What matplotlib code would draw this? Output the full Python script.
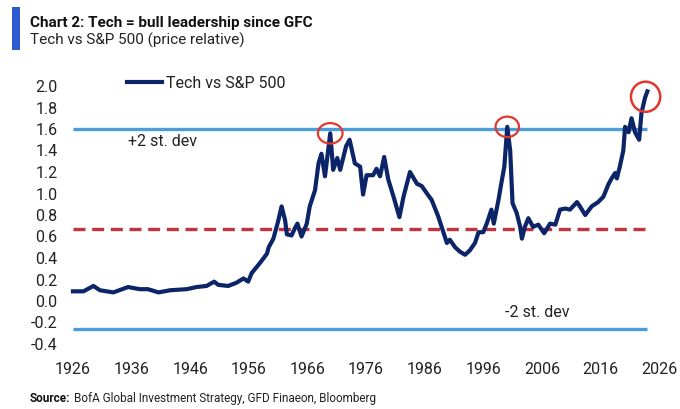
import matplotlib
matplotlib.use("Agg")
import matplotlib.pyplot as plt
from matplotlib.patches import Ellipse, Rectangle
import numpy as np

# ---------------- data ----------------
years = [1926.0, 1927.8, 1929.5, 1930.6, 1932.9, 1935.4, 1937.4, 1938.8, 1940.6, 1942.6,
         1945.4, 1947.1, 1948.8, 1950.1, 1950.8, 1952.5, 1953.9, 1955.1, 1955.9, 1956.5,
         1958.0, 1959.1, 1959.4, 1960.2, 1961.0, 1961.6, 1962.2, 1962.5, 1963.3, 1963.9,
         1964.3, 1965.0, 1965.9, 1966.4, 1967.3, 1967.9, 1968.4, 1969.0, 1969.9, 1970.4,
         1971.1, 1971.6, 1972.6, 1973.2, 1974.1, 1975.0, 1975.5, 1976.1, 1977.2, 1977.8,
         1978.4, 1979.1, 1979.8, 1980.7, 1981.7, 1982.4, 1983.5, 1984.7, 1985.5, 1986.4,
         1987.2, 1988.3, 1988.9, 1989.8, 1990.3, 1991.2, 1992.0, 1992.9, 1993.7, 1994.6,
         1995.2, 1996.0, 1996.6, 1997.4, 1997.8, 1998.6, 1999.2, 1999.6, 2000.1, 2000.6,
         2001.0, 2001.7, 2002.3, 2002.6, 2003.1, 2003.7, 2004.5, 2005.4, 2006.4, 2007.4,
         2008.3, 2009.1, 2010.0, 2010.8, 2012.0, 2012.5, 2013.4, 2014.5, 2015.6, 2016.5,
         2017.4, 2017.9, 2018.5, 2018.8, 2019.3, 2019.9, 2020.2, 2020.8, 2021.3, 2021.9,
         2022.6, 2023.0, 2023.6, 2024.0]
tech_vs_spx = [0.09, 0.09, 0.14, 0.10, 0.08, 0.13, 0.11, 0.11, 0.08, 0.10,
               0.11, 0.13, 0.14, 0.18, 0.15, 0.14, 0.17, 0.21, 0.18, 0.26,
               0.36, 0.44, 0.50, 0.58, 0.74, 0.88, 0.75, 0.62, 0.61, 0.68,
               0.72, 0.60, 0.72, 0.88, 1.03, 1.28, 1.37, 1.16, 1.56, 1.22,
               1.33, 1.22, 1.44, 1.50, 1.28, 1.25, 0.99, 1.17, 1.17, 1.23,
               1.16, 1.34, 1.13, 0.97, 0.78, 0.97, 1.20, 1.09, 1.07, 1.00,
               0.94, 0.79, 0.69, 0.54, 0.57, 0.50, 0.46, 0.43, 0.47, 0.54,
               0.64, 0.64, 0.72, 0.85, 0.72, 0.94, 1.13, 1.25, 1.62, 1.40,
               0.91, 0.82, 0.69, 0.58, 0.69, 0.77, 0.69, 0.71, 0.63, 0.72,
               0.71, 0.85, 0.86, 0.85, 0.92, 0.88, 0.80, 0.88, 0.92, 0.97,
               1.09, 1.14, 1.19, 1.14, 1.25, 1.40, 1.62, 1.57, 1.70, 1.57,
               1.50, 1.75, 1.89, 1.95]

mean_level = 0.67
plus_2sd = 1.60
minus_2sd = -0.26

y_ticks = [-0.4, -0.2, 0.0, 0.2, 0.4, 0.6, 0.8, 1.0, 1.2, 1.4, 1.6, 1.8, 2.0]
x_ticks = [1926, 1936, 1946, 1956, 1966, 1976, 1986, 1996, 2006, 2016, 2026]

title = "Chart 2: Tech = bull leadership since GFC"
subtitle = "Tech vs S&P 500 (price relative)"
series_name = "Tech vs S&P 500"
source_bold = "Source:"
source_rest = "BofA Global Investment Strategy, GFD Finaeon, Bloomberg"

# ---------------- style ----------------
NAVY = "#0C2468"
LIGHT_BLUE = "#4C9EDB"
RED_DASH = "#C1343F"
CIRCLE_RED = "#E2372C"
TEXT = "#222222"
FONT = ["Roboto", "Liberation Sans", "DejaVu Sans"]

plt.rcParams["font.family"] = FONT
plt.rcParams["axes.unicode_minus"] = False

W, H = 680, 409
fig = plt.figure(figsize=(W / 100, H / 100), dpi=100)

x0, x1 = 1925.5, 2026.5
left_px, right_px = 70.0, 662.0
bot_px, top_px = 344.0, 86.0
ax = fig.add_axes([left_px / W, 1 - bot_px / H, (right_px - left_px) / W, (bot_px - top_px) / H])
ax.set_xlim(x0, x1)
ax.set_ylim(-0.4, 2.0)
for s in ax.spines.values():
    s.set_visible(False)
ax.set_yticks(y_ticks)
ax.set_yticklabels([f"{v:.1f}" for v in y_ticks])
ax.set_xticks(x_ticks)
ax.set_xticklabels([str(v) for v in x_ticks])
ax.tick_params(axis="both", length=0, labelsize=11.5, colors=TEXT)
ax.tick_params(axis="y", pad=9)
ax.tick_params(axis="x", pad=13)

# reference lines
ax.hlines([plus_2sd, minus_2sd], years[0], years[-1], colors=LIGHT_BLUE, lw=2.4, zorder=2)
ax.hlines(mean_level, years[0], years[-1], colors=RED_DASH, lw=2.4,
          linestyles=(0, (3.6, 2.0)), zorder=2)

# main series
ax.plot(years, tech_vs_spx, color=NAVY, lw=3.0, solid_joinstyle="round",
        zorder=3, label=series_name, clip_on=False)

# circles around the peaks
yr = np.array(years)
vals = np.array(tech_vs_spx)
def peak_in(lo, hi):
    m = (yr >= lo) & (yr <= hi)
    i = np.argmax(np.where(m, vals, -np.inf))
    return yr[i], vals[i]
for (cx, cy), w, h in [(peak_in(1965, 1975), 4.2, 0.19),
                       (peak_in(1995, 2005), 4.0, 0.19)]:
    ax.add_patch(Ellipse((cx, cy), w, h, fill=False, ec=CIRCLE_RED, lw=1.6, zorder=4, clip_on=False))
end_c = (yr[-2:].mean() - 0.1, vals[-2:].mean() - 0.02)
ax.add_patch(Ellipse(end_c, 5.0, 0.28, fill=False, ec=CIRCLE_RED, lw=1.8, zorder=4, clip_on=False))

# labels on the bands
ax.text(1935.4, 1.48, "+2 st. dev", fontsize=11.5, color=TEXT, va="center", ha="left")
ax.text(1999.7, -0.11, "-2 st. dev", fontsize=11.5, color=TEXT, va="center", ha="left")

# legend
leg = ax.legend(loc="center left", bbox_to_anchor=(127 / W, 1 - 83 / H),
                bbox_transform=fig.transFigure, frameon=False, fontsize=11.5,
                handlelength=2.2, handletextpad=0.25, borderaxespad=0, borderpad=0)
for t in leg.get_texts():
    t.set_color(TEXT)

# title block
fig.patches.append(Rectangle((12 / W, 1 - 50 / H), 8 / W, 43 / H, transform=fig.transFigure,
                             facecolor="#2D5CD2", edgecolor="none"))
fig.text(30 / W, 1 - 27 / H, title, fontsize=11, fontweight="bold", color="#111111",
         va="baseline", ha="left")
fig.text(30 / W, 1 - 45 / H, subtitle, fontsize=11, color="#222222", va="baseline", ha="left")

# source line
src = fig.text(30 / W, 1 - 402 / H, source_bold, fontsize=8.5, fontweight="bold",
               color="#111111", va="baseline", ha="left")
fig.canvas.draw()
bb = src.get_window_extent()
fig.text((bb.x1 + 4) / W, 1 - 402 / H, source_rest, fontsize=8.5, color="#222222",
         va="baseline", ha="left")

fig.savefig("out.png", dpi=100, facecolor="white")
